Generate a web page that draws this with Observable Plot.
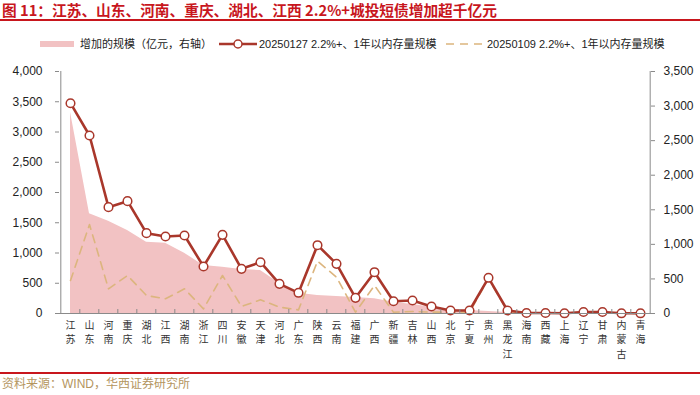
<!DOCTYPE html>
<html>
<head>
<meta charset="utf-8">
<script src="https://cdn.jsdelivr.net/npm/d3@7"></script>
<script src="https://cdn.jsdelivr.net/npm/@observablehq/plot@0.6"></script>
<style>
  html, body { margin: 0; padding: 0; background: #fff; }
  #page { position: relative; width: 700px; height: 395px; overflow: hidden; font-family: "Liberation Sans", "Noto Sans CJK SC", sans-serif; }
  #title { position: absolute; left: 2px; top: 0; height: 19px; line-height: 19px; font-family: "Noto Sans CJK SC", sans-serif; font-weight: 700; font-size: 14.7px; color: #c8161d; white-space: nowrap; }
  #titleRule { position: absolute; left: 0; top: 19px; width: 700px; height: 2px; background: #c8161d; }
  #legend { position: absolute; top: 36px; left: 0; width: 700px; height: 16px; font-size: 11px; color: #222; }
  .li { position: absolute; top: 0; height: 16px; line-height: 16px; white-space: nowrap; }
  #chart { position: absolute; left: 0; top: 60px; }
  #footRule { position: absolute; left: 0; top: 372px; width: 700px; height: 2px; background: #c8161d; }
  #foot { position: absolute; left: 2px; top: 376px; font-size: 12px; line-height: 16px; color: #b4955e; font-family: "Liberation Sans", "Noto Sans CJK SC", sans-serif; white-space: nowrap; }
</style>
</head>
<body>
<div id="page">
  <div id="title">图 11：江苏、山东、河南、重庆、湖北、江西 2.2%+城投短债增加超千亿元</div>
  <div id="titleRule"></div>
  <div id="legend"></div>
  <div id="chart"></div>
  <div id="footRule"></div>
  <div id="foot">资料来源：WIND，华西证券研究所</div>
</div>
<script>
const provinces = ["江苏","山东","河南","重庆","湖北","江西","湖南","浙江","四川","安徽","天津","河北","广东","陕西","云南","福建","广西","新疆","吉林","山西","北京","宁夏","贵州","黑龙江","海南","西藏","上海","辽宁","甘肃","内蒙古","青海"];
const stock0127 = [3476,2942,1758,1857,1328,1273,1289,777,1300,738,848,490,342,1129,821,259,683,203,215,116,50,50,590,50,8,8,3,25,25,3,3];
const stock0109 = [545,1471,408,628,297,243,408,77,628,116,226,105,60,865,600,22,463,20,33,22,22,22,573,35,5,5,2,20,20,2,2];
const increase = [2910,1441,1335,1200,1031,1017,872,694,670,636,622,438,294,260,246,231,212,163,130,91,53,43,29,15,8,6,4,3,2,1,1];
const leftTicks = [0,500,1000,1500,2000,2500,3000,3500,4000];
const rightTicks = [0,500,1000,1500,2000,2500,3000,3500];
const seriesNames = ["增加的规模（亿元，右轴）","20250127 2.2%+、1年以内存量规模","20250109 2.2%+、1年以内存量规模"];

const colArea = "#f2c2c3", colLine = "#a9372b", colDash = "#dcb57e", colAxis = "#8a8a8a";
const leftMax = 4000, rightMax = 3500, k = leftMax / rightMax;

const rows = provinces.map((p, i) => ({p, a: stock0127[i], b: stock0109[i], inc: increase[i]}));

const W = 700, H = 311, mL = 55, mR = 45, mT = 11, mB = 58;
const step = (W - mL - mR) / provinces.length;
const plotH = H - mT - mB;

const chart = Plot.plot({
  width: W, height: H,
  marginLeft: mL, marginRight: mR, marginTop: mT, marginBottom: mB,
  x: {type: "point", domain: provinces, padding: 0.5},
  y: {domain: [0, leftMax]},
  style: {fontFamily: "'Liberation Sans', 'Noto Sans CJK SC', sans-serif", fontSize: "12px", color: "#222", background: "transparent"},
  marks: [
    Plot.areaY(rows, {x: "p", y: d => d.inc * k, fill: colArea, curve: "linear"}),
    Plot.line(rows, {x: "p", y: "b", stroke: colDash, strokeWidth: 1.6, strokeDasharray: "8,6"}),
    Plot.line(rows, {x: "p", y: "a", stroke: colLine, strokeWidth: 2.6}),
    Plot.dot(rows, {x: "p", y: "a", r: 4.3, fill: "white", stroke: colLine, strokeWidth: 1.5}),
    Plot.ruleY([0], {stroke: colAxis}),
    Plot.ruleX([provinces[0]], {dx: -step / 2, stroke: colAxis}),
    Plot.ruleX([provinces[provinces.length - 1]], {dx: step / 2, stroke: colAxis}),
    Plot.ruleX(provinces.slice(1), {dx: -step / 2, insetTop: plotH - 4, stroke: colAxis}),
    Plot.ruleY(leftTicks, {y: d => d, insetRight: W - mL - mR - 4, stroke: colAxis}),
    Plot.ruleY(rightTicks.map(v => v * k), {y: d => d, insetLeft: W - mL - mR - 4, stroke: colAxis}),
    Plot.axisY(leftTicks, {anchor: "left", tickSize: 0, tickPadding: 13, tickFormat: d3.format(","), label: null, fontSize: 12}),
    Plot.axisY(rightTicks.map(v => v * k), {anchor: "right", tickSize: 0, tickPadding: 8, tickFormat: v => d3.format(",")(Math.round(v / k)), label: null, fontSize: 12}),
    Plot.axisX({tickSize: 0, tickPadding: 5, tickFormat: d => d.split("").join("\n"), label: null, fontSize: 10, lineHeight: 1.46, fontFamily: "'Noto Sans CJK SC', sans-serif", fill: "#333"})
  ]
});
document.getElementById("chart").appendChild(chart);

// legend
const lg = document.getElementById("legend");
lg.innerHTML = `
  <div class="li" style="left:40px;"><svg width="34" height="16"><rect x="0" y="5" width="34" height="6" fill="${colArea}"/></svg></div>
  <div class="li" style="left:80px;">${seriesNames[0]}</div>
  <div class="li" style="left:219px;"><svg width="38" height="16"><line x1="0" y1="8" x2="38" y2="8" stroke="${colLine}" stroke-width="2.6"/><circle cx="19" cy="8" r="4" fill="white" stroke="${colLine}" stroke-width="1.5"/></svg></div>
  <div class="li" style="left:259px;">${seriesNames[1]}</div>
  <div class="li" style="left:446px;"><svg width="36" height="16"><line x1="0" y1="8" x2="36" y2="8" stroke="${colDash}" stroke-width="1.6" stroke-dasharray="8,6"/></svg></div>
  <div class="li" style="left:487px;">${seriesNames[2]}</div>
`;
</script>
</body>
</html>
